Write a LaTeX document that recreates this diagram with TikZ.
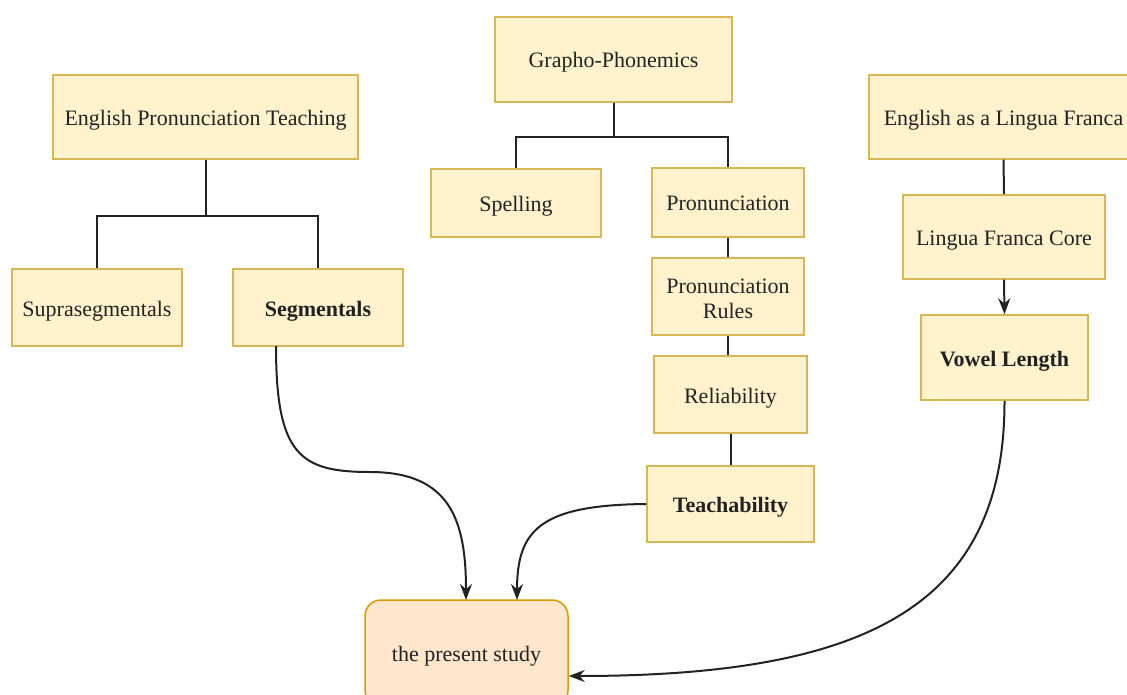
\documentclass[tikz,border=0pt]{standalone}
\usepackage{fontspec}
\setmainfont{Liberation Serif}
\usetikzlibrary{arrows.meta}
\definecolor{boxfill}{HTML}{FFF2CC}
\definecolor{boxline}{HTML}{D6B656}
\definecolor{studyfill}{HTML}{FFE6CC}
\definecolor{studyline}{HTML}{D79B00}
\definecolor{textdark}{HTML}{222222}
\definecolor{linkcol}{HTML}{222222}
\tikzset{
  box/.style={draw=boxline, fill=boxfill, line width=1.5pt, minimum width=#1,
    inner sep=0pt, align=center, text=textdark, text height=17pt, text depth=0pt},
  link/.style={draw=linkcol, line width=2pt},
  arr/.style={link, -{Stealth[length=16pt, width=12pt]}},
}
\begin{document}
\begin{tikzpicture}[x=1pt, y=-1pt, font=\fontsize{22}{25}\selectfont]
\useasboundingbox (0,0) rectangle (1127,695);
\clip (0,0) rectangle (1127,695);
% left branch
\node[box=305pt, minimum height=84pt] (ept) at (205.5,117) {English Pronunciation Teaching};
\node[box=170pt, minimum height=77pt] (supra) at (97,307.5) {Suprasegmentals};
\node[box=170pt, minimum height=77pt] (seg) at (318,307.5) {\textbf{Segmentals}};
% middle branch
\node[box=237pt, minimum height=85pt] (gp) at (613.5,59.5) {Grapho-Phonemics};
\node[box=170pt, minimum height=68pt] (spell) at (516,203) {Spelling};
\node[box=152pt, minimum height=69pt] (pron) at (728,202.5) {Pronunciation};
\node[box=152pt, minimum height=77pt, text height=43pt] (rules) at (728,296.5) {Pronunciation\\Rules};
\node[box=153pt, minimum height=77pt] (rel) at (730.5,394.5) {Reliability};
\node[box=167pt, minimum height=76pt] (teach) at (730.5,504) {\textbf{Teachability}};
% right branch
\node[box=269pt, minimum height=84pt] (elf) at (1003.5,117) {English as a Lingua Franca};
\node[box=202pt, minimum height=84pt] (lfc) at (1004,237) {Lingua Franca Core};
\node[box=167pt, minimum height=85pt] (vowel) at (1004.5,357.5) {\textbf{Vowel Length}};
% target
\node[draw=studyline, fill=studyfill, line width=1.5pt, rounded corners=16pt,
  minimum width=203pt, minimum height=106pt, inner sep=0pt, text=textdark,
  text height=17pt, text depth=0pt] (study) at (466.5,653) {the present study};
% tree connectors
\draw[link] (ept.south) -- ++(0,56) -| (supra.north);
\draw[link] (ept.south) ++(0,56) -| (seg.north);
\draw[link] (gp.south) -- ++(0,34) -| (spell.north);
\draw[link] (gp.south) ++(0,34) -| (pron.north);
\draw[link] (pron.south) -- (pron.south |- rules.north);
\draw[link] (rules.south) -- (rules.south |- rel.north);
\draw[link] (rel.south) -- (rel.south |- teach.north);
\draw[link] (elf.south) -- (lfc.north);
\draw[arr] (lfc.south) -- (vowel.north);
% curved arrows into the study
\coordinate (segout) at (276,346);
\coordinate (studyA) at (466,600);
\coordinate (studyB) at (517,600);
\draw[arr] (segout) .. controls (276,455) and (300,472) .. (370,472) .. controls (450,472) and (466,520) .. (studyA);
\draw[arr] (teach.west) .. controls (540,505) and (517,530) .. (studyB);
\draw[arr] (vowel.south) .. controls (1005,610) and (860,676) .. (study.east |- 0,676);
\end{tikzpicture}
\end{document}
